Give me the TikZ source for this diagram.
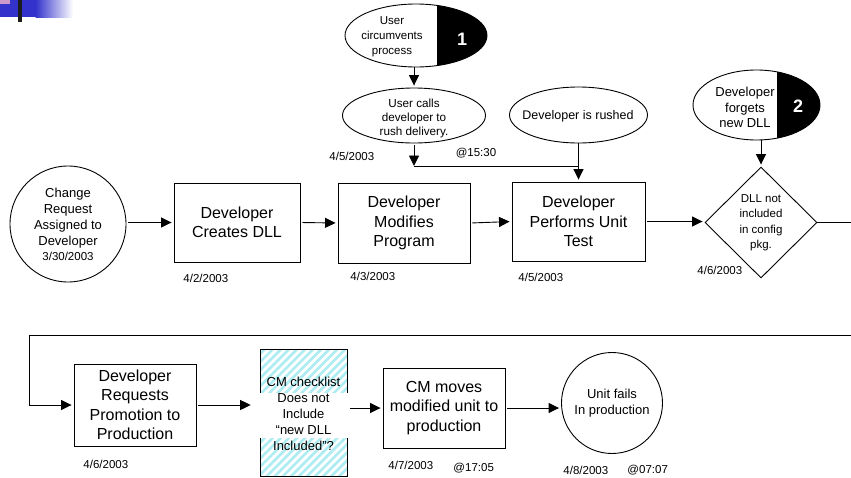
\documentclass[tikz,border=0pt]{standalone}
\usepackage{fontspec}
\setmainfont{Liberation Sans}
\usetikzlibrary{shapes.geometric,arrows.meta,patterns.meta}
\definecolor{tlblue}{RGB}{51,51,204}
\definecolor{tlpink}{RGB}{204,153,204}
\definecolor{tldark}{RGB}{28,28,28}
\definecolor{hatchcol}{RGB}{172,236,242}
\begin{document}
\begin{tikzpicture}[x=1pt,y=-1pt,line width=0.9pt,
  arr/.style={-{Triangle[length=10.5pt,width=10pt]},shorten >=2pt,shorten <=2pt},
  procbox/.style={draw,rectangle,inner sep=0pt,align=center,font=\fontsize{16}{19.5}\selectfont},
  evt/.style={draw,ellipse,inner sep=0pt},
  evttxt/.style={inner sep=0pt,align=center},
  numtxt/.style={inner sep=0pt,text=white,font=\fontsize{18}{20}\selectfont\bfseries},
  datetxt/.style={inner sep=0pt,anchor=west,font=\fontsize{11.5}{14}\selectfont},
  blackpart/.style={path picture={\fill[black] ([xshift=#1]path picture bounding box.north) rectangle (path picture bounding box.south east);}}
]
\clip (0,0) rectangle (851,477);
\fill[white] (0,0) rectangle (851,477);

% corner decoration
\fill[tlblue] (0,0) rectangle (36,17);
\shade[left color=tlblue,right color=white] (35.5,0) rectangle (73,17);
\fill[tlpink] (0,0) rectangle (10,3.5);
\fill[tldark] (18,0) rectangle (22,22);

% ---------- row 1 ----------
\node[draw,circle,minimum size=116pt,inner sep=0pt,align=center,font=\fontsize{13}{16}\selectfont] (c0) at (68,224)
  {Change\\Request\\Assigned to\\Developer\\[-1pt]{\fontsize{11.5}{14}\selectfont 3/30/2003}};
\node[procbox,minimum width=126pt,minimum height=79pt] (b1) at (237,222.5) {Developer\\Creates DLL};
\node[procbox,minimum width=132pt,minimum height=80pt] (b2) at (404,223) {Developer\\Modifies\\Program};
\node[procbox,minimum width=133pt,minimum height=79pt] (b3) at (578.5,221.5) {Developer\\Performs Unit\\Test};
\node[draw,diamond,minimum width=112pt,minimum height=111pt,inner sep=0pt,align=center,font=\fontsize{11.5}{15.5}\selectfont] (dia) at (761,222.5)
  {DLL not\\included\\in config\\pkg.};

\node[datetxt] (d1) at (183,278) {4/2/2003};
\node[datetxt] (d2) at (350,276) {4/3/2003};
\node[datetxt] (d3) at (518,277) {4/5/2003};
\node[datetxt] (d4) at (697,270) {4/6/2003};

% top events
\node[evt,minimum width=142pt,minimum height=63pt,blackpart=21pt] (e1) at (416,35.5) {};
\node[evttxt,font=\fontsize{11.5}{15}\selectfont] (e1t) at (392,37) {User\\circumvents\\process};
\node[numtxt] (e1n) at (462,39) {1};

\node[evt,minimum width=143pt,minimum height=55pt] (e2) at (414,115.5) {};
\node[evttxt,font=\fontsize{11.7}{14}\selectfont] (e2t) at (414,118) {User calls\\developer to\\rush delivery.};

\node[evt,minimum width=138pt,minimum height=56pt] (er) at (578.5,115) {};
\node[evttxt,font=\fontsize{12.5}{15}\selectfont] (ert) at (578,116) {Developer is rushed};

\node[evt,minimum width=127pt,minimum height=70pt,blackpart=20.5pt] (e3) at (756.5,105) {};
\node[evttxt,font=\fontsize{13}{15.5}\selectfont] (e3t) at (745,107.5) {Developer\\forgets\\new DLL};
\node[numtxt] (e3n) at (798,106) {2};

\node[datetxt] (d5) at (329,156) {4/5/2003};
\node[inner sep=0pt,font=\fontsize{11.5}{14}\selectfont] (t1) at (476,153) {@15:30};

\coordinate (j1) at (414,166);

% ---------- row 2 ----------
\node[procbox,minimum width=122pt,minimum height=82pt] (b4) at (135,405) {Developer\\Requests\\Promotion to\\Production};
\node[draw,rectangle,inner sep=0pt,minimum width=87pt,minimum height=127pt,
      pattern={Lines[angle=45,distance=5.7pt,line width=2.6pt]},pattern color=hatchcol] (hb) at (303.5,412.5) {};
\fill[white] (257,393) rectangle (349,438);
\node[evttxt,font=\fontsize{13}{16}\selectfont] (hbt) at (303.5,414) {CM checklist\\Does not\\Include\\“new DLL\\Included”?};
\node[procbox,minimum width=122pt,minimum height=80pt] (b5) at (444,408) {CM moves\\modified unit to\\production};
\node[draw,circle,minimum size=101pt,inner sep=0pt,align=center,font=\fontsize{13}{16}\selectfont] (c5) at (612,403) {Unit fails\\In production};

\node[datetxt] (d6) at (83,464) {4/6/2003};
\node[datetxt] (d7) at (388,465) {4/7/2003};
\node[datetxt] (t2) at (453,468) {@17:05};
\node[datetxt] (d8) at (563,470) {4/8/2003};
\node[datetxt] (t3) at (627,470) {@07:07};

\coordinate (r1) at (870,335);
\coordinate (l1) at (29,335);

% ---------- connectors ----------
\draw[arr] (c0.east |- b1.west) -- (b1.west);
\draw[arr] (b1.east) -- (b2.west);
\draw[arr] (b2.east) -- (b3.west);
\draw[arr] (b3.east) -- (b3.east -| dia.west);
\draw[arr,shorten <=0pt] (e1.south -| e2.north) -- (e2.north);
\draw[arr,shorten >=0pt] (e2.south) -- (j1);
\draw (j1) -- (j1 -| b3.north);
\draw[arr,shorten <=0pt] (er.south -| b3.north) -- (b3.north);
\draw[arr,shorten <=0pt] (e3.south -| dia.north) -- (dia.north);
\draw[arr,shorten <=0pt] (dia.east) -| (r1) -- (l1) |- (b4.west);
\draw[arr,shorten >=8pt] (b4.east) -- (b4.east -| hb.west);
\draw[arr] (b5.west -| hb.east) -- (b5.west);
\draw[arr] (b5.east) -- (b5.east -| c5.west);
\end{tikzpicture}
\end{document}
